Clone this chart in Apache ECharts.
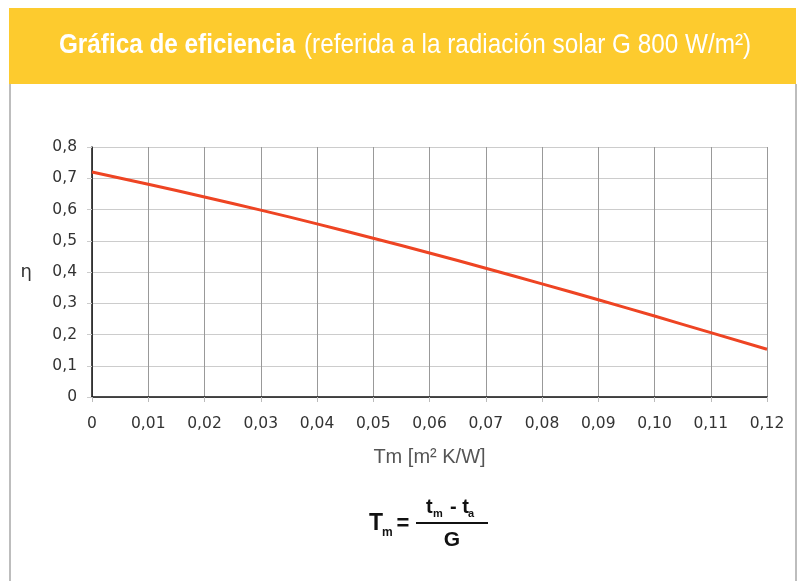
<!DOCTYPE html>
<html>
<head>
<meta charset="utf-8">
<script src="https://cdn.jsdelivr.net/npm/echarts@6/dist/echarts.min.js"></script>
<style>
  html, body { margin: 0; padding: 0; background: #fff; }
  #chart { width: 803px; height: 581px; }
</style>
</head>
<body>
<div id="chart"></div>
<script>
// Reduced temperature difference Tm [m² K/W] and collector efficiency η
const tmValues = [0, 0.01, 0.02, 0.03, 0.04, 0.05, 0.06, 0.07, 0.08, 0.09, 0.10, 0.11, 0.12];
const etaValues = [0.720, 0.681, 0.640, 0.598, 0.554, 0.508, 0.461, 0.412, 0.362, 0.311, 0.259, 0.206, 0.153];
const xTickLabels = ['0', '0,01', '0,02', '0,03', '0,04', '0,05', '0,06', '0,07', '0,08', '0,09', '0,10', '0,11', '0,12'];
const yTickLabels = ['0', '0,1', '0,2', '0,3', '0,4', '0,5', '0,6', '0,7', '0,8'];

const chart = echarts.init(document.getElementById('chart'), null, { renderer: 'canvas' });

const tickFont = 'DejaVu Sans, Verdana, sans-serif';
const sans = 'Liberation Sans, Arial, sans-serif';

chart.setOption({
  animation: false,
  backgroundColor: '#ffffff',
  grid: { left: 92, right: 36, top: 147, bottom: 184, containLabel: false },
  xAxis: {
    type: 'value',
    min: 0, max: 0.12, interval: 0.01,
    name: 'Tm [m² K/W]',
    nameLocation: 'middle',
    nameGap: 50,
    nameTextStyle: { fontFamily: sans, fontSize: 20, color: '#555' },
    axisLine: { show: true, onZero: false, lineStyle: { color: '#111', width: 1.5 } },
    axisTick: { show: true, length: 5, lineStyle: { color: '#bbb' } },
    axisLabel: {
      margin: 19,
      fontFamily: tickFont, fontSize: 15.5, color: '#333',
      formatter: (v) => xTickLabels[Math.round(v * 100)]
    },
    splitLine: { show: true, lineStyle: { color: '#999', width: 1 } }
  },
  yAxis: {
    type: 'value',
    min: 0, max: 0.8, interval: 0.1,
    name: 'η',
    nameLocation: 'middle',
    nameRotate: 0,
    nameGap: 60,
    nameTextStyle: { fontFamily: tickFont, fontSize: 18, color: '#333' },
    axisLine: { show: true, lineStyle: { color: '#111', width: 1.5 } },
    axisTick: { show: true, length: 5, lineStyle: { color: '#ccc' } },
    axisLabel: {
      margin: 15,
      fontFamily: tickFont, fontSize: 15.5, color: '#333',
      formatter: (v) => yTickLabels[Math.round(v * 10)]
    },
    splitLine: { show: true, lineStyle: { color: '#ccc', width: 1 } }
  },
  series: [{
    type: 'line',
    data: tmValues.map((t, i) => [t, etaValues[i]]),
    smooth: true,
    symbol: 'none',
    lineStyle: { color: '#EE4423', width: 3 },
    z: 5
  }],
  graphic: [
    // header band
    { type: 'rect', shape: { x: 9, y: 8, width: 787, height: 76 }, style: { fill: '#FDCB2E' }, z: -1 },
    // panel side borders
    { type: 'rect', shape: { x: 9, y: 84, width: 2, height: 497 }, style: { fill: '#bdbdbd' } },
    { type: 'rect', shape: { x: 795, y: 84, width: 2, height: 497 }, style: { fill: '#bdbdbd' } },
    // title (condensed horizontally)
    {
      type: 'text',
      x: 405, y: 45,
      scaleX: 0.868,
      originX: 0, originY: 0,
      style: {
        text: '{b|Gráfica de eficiencia}{s| }{r|(referida a la radiación solar G 800 W/m²)}',
        align: 'center', verticalAlign: 'middle',
        rich: {
          b: { fontFamily: sans, fontWeight: 'bold', fontSize: 28, fill: '#ffffff' },
          s: { fontFamily: sans, fontSize: 28, fill: '#ffffff', width: 10 },
          r: { fontFamily: sans, fontSize: 28, fill: '#ffffff' }
        }
      }
    },
    // formula Tm = (tm - ta) / G
    {
      type: 'text', x: 383, y: 524,
      style: { text: 'T', font: 'bold 23px Liberation Sans, Arial, sans-serif', fill: '#111', align: 'right', verticalAlign: 'middle' }
    },
    {
      type: 'text', x: 382, y: 533,
      style: { text: 'm', font: 'bold 12px Liberation Sans, Arial, sans-serif', fill: '#111', align: 'left', verticalAlign: 'middle' }
    },
    {
      type: 'text', x: 403, y: 524,
      style: { text: '=', font: 'bold 22px Liberation Sans, Arial, sans-serif', fill: '#111', align: 'center', verticalAlign: 'middle' }
    },
    {
      type: 'text', x: 426, y: 507,
      style: { text: 't', font: 'bold 20px Liberation Sans, Arial, sans-serif', fill: '#111', align: 'left', verticalAlign: 'middle' }
    },
    {
      type: 'text', x: 433, y: 514,
      style: { text: 'm', font: 'bold 11px Liberation Sans, Arial, sans-serif', fill: '#111', align: 'left', verticalAlign: 'middle' }
    },
    {
      type: 'text', x: 450, y: 507,
      style: { text: '- t', font: 'bold 20px Liberation Sans, Arial, sans-serif', fill: '#111', align: 'left', verticalAlign: 'middle' }
    },
    {
      type: 'text', x: 468, y: 514,
      style: { text: 'a', font: 'bold 11px Liberation Sans, Arial, sans-serif', fill: '#111', align: 'left', verticalAlign: 'middle' }
    },
    { type: 'rect', shape: { x: 416, y: 522, width: 72, height: 2 }, style: { fill: '#111' } },
    {
      type: 'text', x: 452, y: 540,
      style: { text: 'G', font: 'bold 21px Liberation Sans, Arial, sans-serif', fill: '#111', align: 'center', verticalAlign: 'middle' }
    }
  ]
});
</script>
</body>
</html>
